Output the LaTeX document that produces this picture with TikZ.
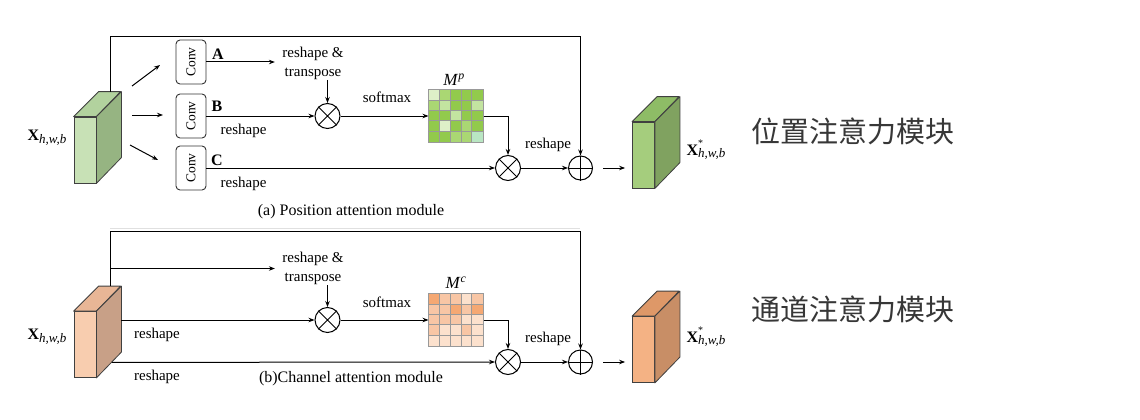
\documentclass[tikz,border=0pt]{standalone}
\usepackage{fontspec}
\setmainfont{Liberation Serif}
\newfontfamily\cjk{Noto Sans CJK SC}
\usetikzlibrary{arrows.meta,calc}
\definecolor{gfrontA}{RGB}{200,225,182}
\definecolor{gtopA}{RGB}{178,210,158}
\definecolor{gsideA}{RGB}{150,180,130}
\definecolor{gfrontB}{RGB}{165,205,125}
\definecolor{gtopB}{RGB}{142,188,102}
\definecolor{gsideB}{RGB}{128,162,96}
\definecolor{ofrontA}{RGB}{248,205,175}
\definecolor{otopA}{RGB}{232,182,150}
\definecolor{osideA}{RGB}{200,160,135}
\definecolor{ofrontB}{RGB}{244,178,132}
\definecolor{otopB}{RGB}{222,152,104}
\definecolor{osideB}{RGB}{200,142,102}
\definecolor{gVL}{RGB}{222,240,200}
\definecolor{gL}{RGB}{195,228,160}
\definecolor{gM}{RGB}{170,215,115}
\definecolor{gG}{RGB}{146,202,76}
\definecolor{gC}{RGB}{185,230,195}
\definecolor{oD}{RGB}{245,168,115}
\definecolor{oM}{RGB}{248,198,165}
\definecolor{oL}{RGB}{252,225,205}
\definecolor{cjkgray}{RGB}{55,55,55}
\newcommand\mkcube[5]{%
  \node[draw=black!75, line width=0.8pt, fill=#3, minimum width=22pt, minimum height=66pt, inner sep=0pt] (#1) at #2 {};
  \draw[draw=black!75, line width=0.8pt, fill=#4, line join=round] (#1.north west) -- ++(25,-25) -- ++(22,0) -- (#1.north east) -- cycle;
  \draw[draw=black!75, line width=0.8pt, fill=#5, line join=round] (#1.north east) -- ++(25,-25) -- ++(0,66) -- (#1.south east) -- cycle;
}
\newcommand\mkcells[3]{%
  \foreach \row [count=\r from 0] in {#2} {
    \foreach \c [count=\k from 0] in \row {
      \fill[\c] ($(#1.north west)+(\k*10.8,\r*10.4)$) rectangle ++(10.8,10.4);
    }
  }
  \foreach \i in {1,...,4} {
    \draw[#3, line width=0.7pt] ($(#1.north west)+(\i*10.8,0)$) -- ++(0,52);
    \draw[#3, line width=0.7pt] ($(#1.north west)+(0,\i*10.4)$) -- ++(54,0);
  }
  \draw[#3, line width=0.8pt] (#1.north west) rectangle (#1.south east);
}
\begin{document}
\begin{tikzpicture}[x=1pt,y=-1pt, line width=1pt, >={Stealth[length=6pt,width=4.5pt]},
  lbl/.style={font=\fontsize{15}{17}\selectfont, inner sep=0pt},
  captxt/.style={font=\fontsize{16}{18}\selectfont, inner sep=0pt},
  convbox/.style={draw=black!80, line width=0.9pt, rounded corners=4pt, minimum width=30pt, minimum height=44pt, inner sep=0pt, font=\fontsize{13.5}{13.5}\selectfont},
  mul/.style={draw, circle, minimum size=25pt, inner sep=0pt},
  addn/.style={draw, circle, minimum size=24pt, inner sep=0pt},
  mat/.style={minimum width=54pt, minimum height=52pt, inner sep=0pt},
  letter/.style={font=\fontsize{16}{18}\selectfont\bfseries, inner sep=0pt},
  xlab/.style={font=\fontsize{16}{18}\selectfont, inner sep=0pt},
  cjklab/.style={font=\cjk\fontsize{29}{32}\selectfont, text=cjkgray, inner sep=0pt},
]
\useasboundingbox (0,0) rectangle (1140,420);

% ================= (a) Position attention module =================
\mkcube{in1}{(85,150)}{gfrontA}{gtopA}{gsideA}
\node[xlab] (xin1) at (47,138) {\textbf{X}\raisebox{-0.35ex}{\fontsize{13}{13}\selectfont\textit{h,w,b}}};

\node[convbox] (convA) at (191,62) {\rotatebox{90}{Conv}};
\node[convbox] (convB) at (191,116) {\rotatebox{90}{Conv}};
\node[convbox] (convC) at (191,168) {\rotatebox{90}{Conv}};
\node[letter] (lA) at (218,54) {A};
\node[letter] (lB) at (217,106) {B};
\node[letter] (lC) at (217,160) {C};

\coordinate (fa1) at (132,86);  \coordinate (fa2) at (160,65);
\coordinate (fb1) at (132,115); \coordinate (fb2) at (163,115);
\coordinate (fc1) at (130,145); \coordinate (fc2) at (158,160);
\draw[->] (fa1) -- (fa2);
\draw[->] (fb1) -- (fb2);
\draw[->] (fc1) -- (fc2);

\node[lbl, align=center] (rt1) at (313,63) {reshape \&\\[2pt]transpose};
\node[mul] (m1) at (327.5,116) {};
\draw (m1.north west) -- (m1.south east) (m1.north east) -- (m1.south west);
\node[mat] (mp) at (456,116) {};
\mkcells{mp}{{gVL,gM,gG,gG,gG},{gM,gL,gG,gG,gL},{gG,gG,gL,gG,gG},{gG,gVL,gG,gM,gG},{gG,gG,gM,gM,gC}}{black!40}
\node[font=\fontsize{17}{17}\selectfont, inner sep=0pt] (lmp) at (454,80) {\textit{M}\textsuperscript{\textit{p}}};
\node[mul] (m2) at (508,168) {};
\draw (m2.north west) -- (m2.south east) (m2.north east) -- (m2.south west);
\node[addn] (p1) at (580.5,168) {};
\draw (p1.north) -- (p1.south) (p1.west) -- (p1.east);
\mkcube{out1}{(643.5,155)}{gfrontB}{gtopB}{gsideB}
\node[xlab] (xout1) at (706,150) {\textbf{X}\makebox[0pt][l]{\raisebox{1.1ex}{\fontsize{10}{10}\selectfont *}}\raisebox{-0.35ex}{\fontsize{13}{13}\selectfont\textit{h,w,b}}};
\node[cjklab] (t1) at (852.5,131) {位置注意力模块};

\draw[->, shorten >=7pt] (convA.east) -- (convA.east -| rt1.west);
\draw[->] (m1.north |- rt1.south) -- (m1.north);
\draw[->] (convB.east) -- (m1.west);
\node[lbl] (rsB) at (243.5,131) {reshape};
\node[lbl] (sm1) at (387,97) {softmax};
\draw[->] (m1.east) -- (mp.west);
\draw[->] (mp.east) -| (m2.north);
\draw[->] (convC.east) -- (m2.west);
\node[lbl] (rsC) at (243.5,184) {reshape};
\node[lbl] (rs1) at (548,145) {reshape};
\draw[->] (m2.east) -- (p1.west);
\coordinate (s1) at ($(in1.north)+(25,-25)$);
\draw[->] (s1) -- ++(0,-55) -| (p1.north);
\draw[->, shorten <=10pt, shorten >=7pt] (p1.east) -- (p1.east -| out1.west);
\node[captxt] (capa) at (351,212) {(a) Position attention module};
\draw[black!12, line width=0.8pt] (110,228) -- (580,228);

% ================= (b) Channel attention module =================
\mkcube{in2}{(85,344.5)}{ofrontA}{otopA}{osideA}
\node[xlab] (xin2) at (47,337) {\textbf{X}\raisebox{-0.35ex}{\fontsize{13}{13}\selectfont\textit{h,w,b}}};
\coordinate (s2) at ($(in2.north)+(25,-25)$);
\coordinate (in2side) at ($(in2.north east)+(25,-25)$);
\coordinate (in2low) at ($(in2.south east)+(15.5,-15.5)$);

\node[lbl, align=center] (rt2) at (313,268.5) {reshape \&\\[2pt]transpose};
\node[mul] (m3) at (327.5,320) {};
\draw (m3.north west) -- (m3.south east) (m3.north east) -- (m3.south west);
\node[mat] (mc) at (456,320) {};
\mkcells{mc}{{oD,oM,oM,oL,oM},{oM,oM,oD,oM,oD},{oM,oM,oM,oL,oL},{oM,oL,oL,oM,oL},{oL,oL,oL,oL,oL}}{black!40}
\node[font=\fontsize{17}{17}\selectfont, inner sep=0pt] (lmc) at (456,283) {\textit{M}\textsuperscript{\textit{c}}};
\node[mul] (m4) at (508,362) {};
\draw (m4.north west) -- (m4.south east) (m4.north east) -- (m4.south west);
\node[addn] (p2) at (580.5,362) {};
\draw (p2.north) -- (p2.south) (p2.west) -- (p2.east);
\mkcube{out2}{(643.5,349.5)}{ofrontB}{otopB}{osideB}
\node[xlab] (xout2) at (706,337) {\textbf{X}\makebox[0pt][l]{\raisebox{1.1ex}{\fontsize{10}{10}\selectfont *}}\raisebox{-0.35ex}{\fontsize{13}{13}\selectfont\textit{h,w,b}}};
\node[cjklab] (t2) at (852.5,309) {通道注意力模块};

\draw[->] (s2) -- ++(0,-54.5) -| (p2.north);
\draw[->, shorten >=7pt] (s2 |- rt2.west) -- (rt2.west);
\draw[->] (m3.north |- rt2.south) -- (m3.north);
\draw[->] (in2side |- m3.west) -- (m3.west);
\node[lbl] (rs2a) at (157,335) {reshape};
\draw[->] (in2low) -- (m4.west);
\node[lbl] (rs2b) at (157,377) {reshape};
\node[lbl] (sm2) at (387,302) {softmax};
\draw[->] (m3.east) -- (mc.west);
\draw[->] (mc.east) -| (m4.north);
\node[lbl] (rs2) at (548,339) {reshape};
\draw[->] (m4.east) -- (p2.west);
\draw[->, shorten <=10pt, shorten >=7pt] (p2.east) -- (p2.east -| out2.west);
\node[captxt] (capb) at (351,379) {(b)Channel attention module};
\end{tikzpicture}
\end{document}
